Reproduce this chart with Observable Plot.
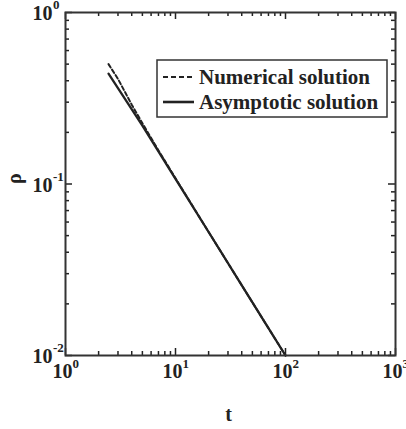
<!DOCTYPE html>
<html>
<head>
<meta charset="utf-8">
<script src="https://cdn.jsdelivr.net/npm/d3@7"></script>
<script src="https://cdn.jsdelivr.net/npm/@observablehq/plot@0.6"></script>
<style>
  html, body { margin: 0; padding: 0; background: #fff; }
  #wrap { position: relative; width: 406px; height: 429px; }
  #legend { position: absolute; left: 156px; top: 59px; }
</style>
</head>
<body>
<div id="wrap"></div>
<script>
// Data
const numT   = [2.46, 3, 4, 5, 7, 10, 20, 50, 100];
const numRho = [0.50, 0.41, 0.29, 0.226, 0.157, 0.108, 0.0525, 0.0204, 0.0100];
const asyT   = [2.46, 5, 10, 20, 50, 100];
const asyRho = [0.44, 0.219, 0.107, 0.0525, 0.0204, 0.0100];

const xMajor = [1, 10, 100, 1000];
const yMajor = [0.01, 0.1, 1];
const xMinor = [2,3,4,5,6,7,8,9,20,30,40,50,60,70,80,90,200,300,400,500,600,700,800,900];
const yMinor = [0.02,0.03,0.04,0.05,0.06,0.07,0.08,0.09,0.2,0.3,0.4,0.5,0.6,0.7,0.8,0.9];
const xDomain = [1, 1000];
const yDomain = [0.01, 1];

const seriesNames = ["Numerical solution", "Asymptotic solution"];
const xLabel = "t";
const yLabel = "ρ";

const numerical = numT.map((t, i) => ({t, rho: numRho[i]}));
const asymptotic = asyT.map((t, i) => ({t, rho: asyRho[i]}));

const ink = "#222";
const serif = "'Liberation Serif', 'Times New Roman', serif";
const expOf = d => String(Math.round(Math.log10(d)));

const W = 406, H = 429, ML = 65, MR = 11, MT = 12, MB = 74;
const FW = W - ML - MR, FH = H - MT - MB;

// inward tick marks as Plot rules spanning the frame, shortened with insets
const ticks = (xs, ys, len) => [
  Plot.ruleX(xs, { x: d => d, y1: yDomain[1], y2: yDomain[0], insetTop: FH - len, stroke: ink, strokeWidth: 1.5 }),
  Plot.ruleX(xs, { x: d => d, y1: yDomain[1], y2: yDomain[0], insetBottom: FH - len, stroke: ink, strokeWidth: 1.5 }),
  Plot.ruleY(ys, { y: d => d, x1: xDomain[0], x2: xDomain[1], insetRight: FW - len, stroke: ink, strokeWidth: 1.5 }),
  Plot.ruleY(ys, { y: d => d, x1: xDomain[0], x2: xDomain[1], insetLeft: FW - len, stroke: ink, strokeWidth: 1.5 })
];

const chart = Plot.plot({
  width: W,
  height: H,
  marginLeft: ML,
  marginRight: MR,
  marginTop: MT,
  marginBottom: MB,
  style: { fontFamily: serif, fontWeight: "bold", color: ink, background: "#fff", overflow: "visible" },
  x: { type: "log", domain: xDomain, axis: null },
  y: { type: "log", domain: yDomain, axis: null },
  marks: [
    ...ticks(xMajor, yMajor, 7),
    ...ticks(xMinor, yMinor, 4),
    // tick labels: x
    Plot.text(xMajor, { x: d => d, frameAnchor: "bottom", text: () => "10", textAnchor: "middle",
      lineAnchor: "bottom", dx: -3, dy: 22, fontSize: 20, fontWeight: "bold", fill: ink }),
    Plot.text(xMajor, { x: d => d, frameAnchor: "bottom", text: expOf, textAnchor: "start",
      lineAnchor: "bottom", dx: 7, dy: 12, fontSize: 13, fontWeight: "bold", fill: ink }),
    // tick labels: y
    Plot.text(yMajor, { y: d => d, frameAnchor: "left", text: () => "10", textAnchor: "end",
      lineAnchor: "bottom", dx: -13, dy: 7.5, fontSize: 20, fontWeight: "bold", fill: ink }),
    Plot.text(yMajor, { y: d => d, frameAnchor: "left", text: expOf, textAnchor: "start",
      lineAnchor: "bottom", dx: -12.5, dy: -3.5, fontSize: 13, fontWeight: "bold", fill: ink }),
    // axis titles
    Plot.text([xLabel], { frameAnchor: "bottom", text: d => d, lineAnchor: "bottom", dx: -2, dy: 65,
      fontSize: 20, fontWeight: "bold", fill: ink }),
    Plot.text([yLabel], { frameAnchor: "left", text: d => d, rotate: -90, dx: -51,
      fontSize: 20, fontWeight: "bold", fill: ink }),
    // series
    Plot.line(numerical, { x: "t", y: "rho", stroke: ink, strokeWidth: 2, strokeDasharray: "4,2.5" }),
    Plot.line(asymptotic, { x: "t", y: "rho", stroke: ink, strokeWidth: 2.3 }),
    Plot.frame({ stroke: "#333", strokeWidth: 2 })
  ]
});

const wrap = document.getElementById("wrap");
wrap.appendChild(chart);

// legend box
const leg = d3.create("svg").attr("id", "legend").attr("width", 234).attr("height", 60);
leg.append("rect").attr("x", 1).attr("y", 1).attr("width", 230).attr("height", 57)
  .attr("fill", "#fff").attr("stroke", "#333").attr("stroke-width", 1.5);
const dashes = ["5,3", null];
seriesNames.forEach((name, i) => {
  const yl = 18 + i * 25;
  const ln = leg.append("line").attr("x1", 7).attr("x2", 38).attr("y1", yl).attr("y2", yl)
    .attr("stroke", ink).attr("stroke-width", i === 0 ? 2 : 2.6);
  if (dashes[i]) ln.attr("stroke-dasharray", dashes[i]);
  leg.append("text").attr("x", 43).attr("y", yl + 6.5).text(name)
    .attr("font-family", serif).attr("font-weight", "bold").attr("font-size", 21).attr("fill", ink);
});
wrap.appendChild(leg.node());
</script>
</body>
</html>
